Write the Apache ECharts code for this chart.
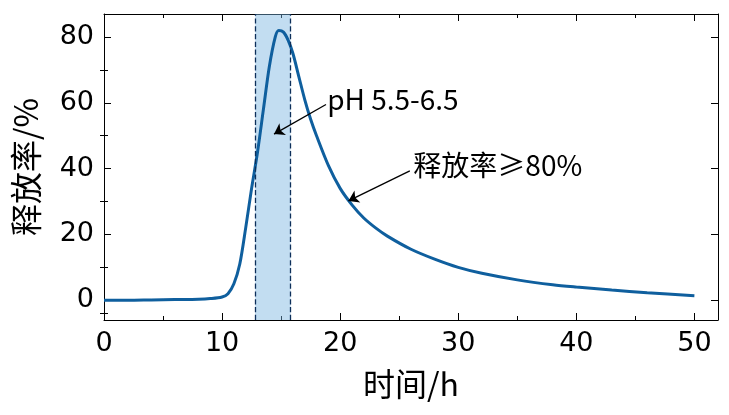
<!DOCTYPE html><html><head><meta charset="utf-8">
<script src="https://cdn.jsdelivr.net/npm/echarts@6/dist/echarts.min.js"></script>
<style>html,body{margin:0;background:#fff}#c{width:729px;height:415px}</style></head><body><div id="c"></div>
<script>
const timeH=[0,2,4,6,8,9,10,10.5,11,11.5,12,12.5,13,13.5,14,14.5,14.8,15.2,15.6,16,16.5,17,17.5,18,19,20,21,22,23,24,26,28,30,32,35,38,40,43,46,50];
const release=[0,0,0.1,0.2,0.3,0.5,1,2,5,11,22,34,45,58,71,80,82,81.5,79,75,68,61,55,50,41,34,29,25,22,19.5,15.5,12.5,10,8.2,6.2,4.7,4,3.1,2.3,1.4];
const band=[12.8,15.8];
const yTicks=[0,20,40,60,80], yMinor=[-4,10,30,50,70];
const ann1={text:'pH 5.5-6.5',from:[18.8,59.5],to:[14.4,50.5],at:[18.9,61]};
const ann2={text:'释放率≥80%',from:[25.9,39.3],to:[20.7,30.2],at:[26.2,41]};
const F='"Noto Sans CJK SC","DejaVu Sans",sans-serif';
const c=echarts.init(document.getElementById('c'));
const line={show:true,onZero:false,lineStyle:{color:'#000',width:1}};
const lab={color:'#000',fontSize:27,fontFamily:'"DejaVu Sans"'};
const xBase={type:'value',min:0,max:52,interval:10,axisLine:line,splitLine:{show:false},axisTick:{show:true,inside:true,length:7,lineStyle:{color:'#000'}},minorTick:{show:true,splitNumber:2,length:4,lineStyle:{color:'#000'}}};
function yAx(pos,custom,len,labels,extra){return Object.assign({type:'value',min:-6,max:87,position:pos,axisLine:pos?line:{show:false},splitLine:{show:false},
 axisTick:{show:true,inside:true,length:len,customValues:custom,lineStyle:{color:'#000'}},
 axisLabel:labels?Object.assign({customValues:custom,margin:10},lab):{show:false}},extra||{});}
c.setOption({animation:false,
grid:{left:104,right:11,top:14,bottom:95},
xAxis:[Object.assign({},xBase,{name:'时间/h',nameLocation:'middle',nameGap:48,nameTextStyle:{fontSize:32,color:'#000',fontFamily:F},axisLabel:Object.assign({margin:10},lab)}),
 Object.assign({},xBase,{position:'top',axisLabel:{show:false}})],
yAxis:[yAx('left',yTicks,7,true,{name:'释放率/%',nameLocation:'middle',nameGap:62,nameTextStyle:{fontSize:32,color:'#000',fontFamily:F}}),
 yAx('right',yTicks,7,false),yAx(null,yMinor,4,false,{position:'left'}),yAx(null,yMinor,4,false,{position:'right'})],
series:[{type:'line',data:timeH.map((t,i)=>[t,release[i]]),smooth:0.3,showSymbol:false,lineStyle:{color:'#0f5f9e',width:3},
 markArea:{silent:true,itemStyle:{color:'rgba(120,180,225,0.45)'},data:[[{xAxis:band[0]},{xAxis:band[1]}]]},
 markLine:{silent:true,symbol:'none',label:{show:false},lineStyle:{color:'#0d2f5a',type:'dashed',width:1.3},data:[{xAxis:band[0]},{xAxis:band[1]},
  [{coord:ann1.from,symbol:'none',lineStyle:{type:'solid',color:'#000',width:1.3}},{coord:ann1.to,symbol:'arrow',symbolSize:10}],
  [{coord:ann2.from,symbol:'none',lineStyle:{type:'solid',color:'#000',width:1.3}},{coord:ann2.to,symbol:'arrow',symbolSize:10}]]},
 markPoint:{silent:true,symbolSize:0,data:[ann1,ann2].map(a=>({coord:a.at,label:{show:true,formatter:a.text,position:'right',distance:0,fontSize:28,color:'#000',fontFamily:F}}))}
}]});
</script></body></html>
